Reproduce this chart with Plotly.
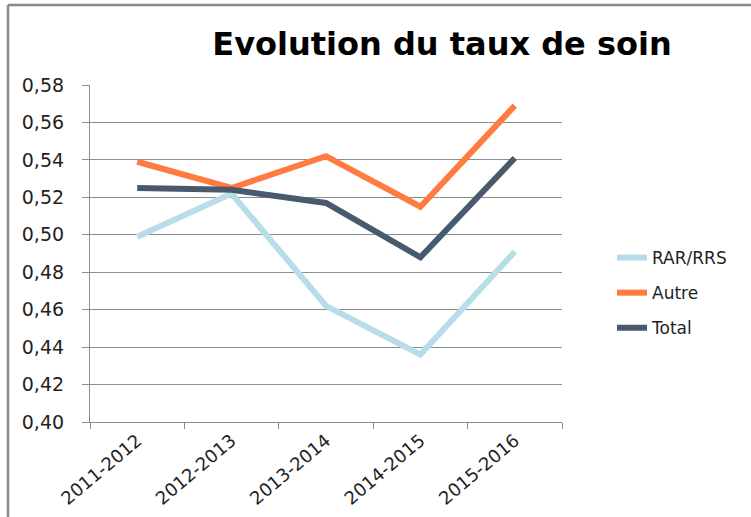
import plotly.graph_objects as go

# Data
categories = ["2011-2012", "2012-2013", "2013-2014", "2014-2015", "2015-2016"]
rar_rrs = [0.499, 0.522, 0.462, 0.436, 0.491]
autre = [0.539, 0.525, 0.542, 0.515, 0.569]
total = [0.525, 0.524, 0.517, 0.488, 0.541]
y_ticks = [0.40, 0.42, 0.44, 0.46, 0.48, 0.50, 0.52, 0.54, 0.56, 0.58]
y_tick_text = [f"{v:.2f}".replace(".", ",") for v in y_ticks]

W, H = 751, 517
ML, MR, MT, MB = 90, 189, 85, 95
pw, ph = W - ML - MR, H - MT - MB

font_main = "DejaVu Sans"
grid = "#8c8c8c"
text_col = "#1f1f1f"

fig = go.Figure()
series = [
    ("RAR/RRS", rar_rrs, "#b7dee8"),
    ("Autre", autre, "#ff7b3f"),
    ("Total", total, "#4a5a6e"),
]
for i, (name, vals, color) in enumerate(series):
    fig.add_trace(go.Scatter(
        x=categories, y=vals, name=name, mode="lines",
        line=dict(color=color, width=6),
        legendgroup=f"g{i}",
    ))

# Chart frame (top and left edges)
x_left = (8 - ML) / pw
y_top = (H - MB - 5) / ph
fig.add_shape(type="line", xref="paper", yref="paper",
              x0=x_left, x1=(W - ML) / pw + 0.1, y0=y_top, y1=y_top,
              line=dict(color="#8a8a8a", width=2.5))
fig.add_shape(type="line", xref="paper", yref="paper",
              x0=x_left, x1=x_left, y0=y_top, y1=-MB / ph - 0.1,
              line=dict(color="#8a8a8a", width=2.5))

fig.update_layout(
    width=W, height=H,
    margin=dict(l=ML, r=MR, t=MT, b=MB, autoexpand=False),
    paper_bgcolor="white", plot_bgcolor="white",
    title=dict(text="<b>Evolution du taux de soin</b>", x=442 / W, xanchor="center",
               y=1 - 44 / H, yanchor="middle",
               font=dict(family=font_main, size=32, color="#000000")),
    font=dict(family=font_main, size=17, color=text_col),
    showlegend=True,
    legend=dict(x=(612 - ML) / pw, xanchor="left", y=(H - MB - 240) / ph, yanchor="top",
                traceorder="grouped", tracegroupgap=10,
                font=dict(family=font_main, size=17, color=text_col),
                bgcolor="rgba(0,0,0,0)"),
    xaxis=dict(
        type="category", range=[-0.5, 4.5], automargin=False,
        showline=True, linecolor=grid, linewidth=1.2,
        ticks="outside", tickson="boundaries", ticklen=6, tickcolor=grid,
        tickangle=-40, showgrid=False,
        tickfont=dict(family=font_main, size=18, color=text_col),
    ),
    yaxis=dict(
        range=[0.40, 0.58], tickvals=y_ticks, ticktext=y_tick_text, automargin=False,
        showline=True, linecolor=grid, linewidth=1.2,
        ticks="outside", ticklen=7, tickcolor=grid, ticklabelstandoff=14,
        showgrid=True, gridcolor=grid, gridwidth=1.2, zeroline=False,
        tickfont=dict(family=font_main, size=19, color=text_col),
    ),
)

fig.write_html("out.html")
